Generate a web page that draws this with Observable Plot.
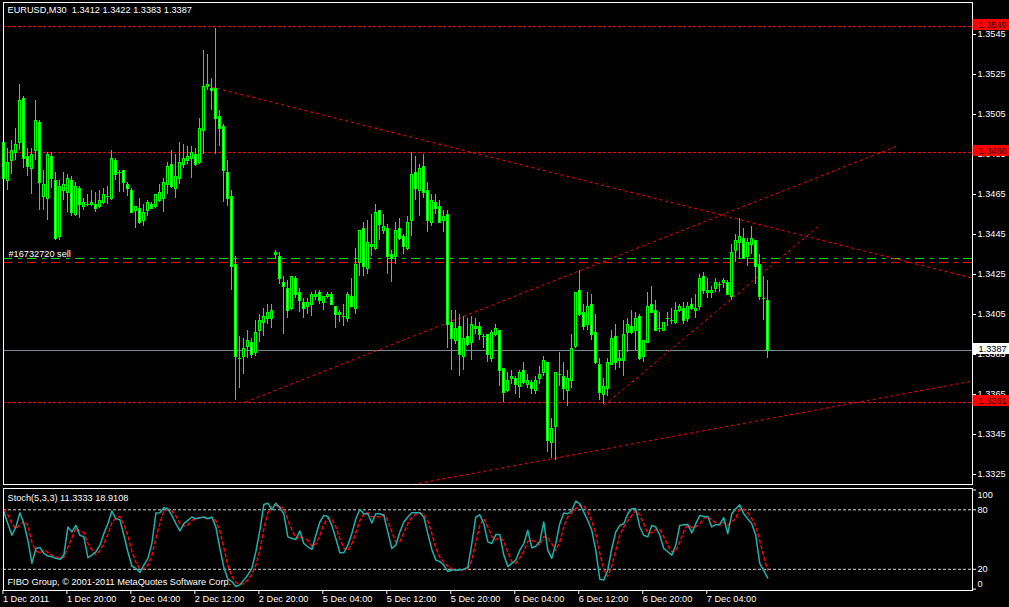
<!DOCTYPE html>
<html>
<head>
<meta charset="utf-8">
<script src="https://cdn.jsdelivr.net/npm/d3@7"></script>
<script src="https://cdn.jsdelivr.net/npm/@observablehq/plot@0.6"></script>
<style>
  html, body { margin: 0; padding: 0; background: #000; }
  #chart { position: relative; width: 1009px; height: 607px; background: #000; overflow: hidden; }
  #chart svg { position: absolute; left: 0; display: block; }
</style>
</head>
<body>
<div id="chart"></div>
<script>
// ---------------- DATA ----------------
const symbolHeader = "EURUSD,M30  1.3412 1.3422 1.3383 1.3387";
const stochHeader = "Stoch(5,3,3) 11.3333 18.9108";
const copyright = "FIBO Group, \u00A9 2001-2011 MetaQuotes Software Corp.";
const orderLabel = "#16732720 sell";

const openP = [1.3491,1.3472,1.3482,1.3486,1.3491,1.3513,1.3484,1.3478,1.3487,1.3501,
1.3464,1.3463,1.3484,1.3472,1.3444,1.3467,1.3466,1.3472,1.3455,1.3468,
1.3459,1.3460,1.3460,1.3460,1.3459,1.3461,1.3464,1.3463,1.3482,1.3476,
1.3477,1.3470,1.3467,1.3457,1.3458,1.3452,1.3457,1.3460,1.3459,1.3462,
1.3463,1.3470,1.3480,1.3468,1.3473,1.3480,1.3482,1.3483,1.3485,1.3481,
1.3497,1.3519,1.3518,1.3518,1.3504,1.3499,1.3476,1.3464,1.3430,1.3383,
1.3384,1.3389,1.3391,1.3386,1.3397,1.3401,1.3403,1.3403,1.3435,1.3434,
1.3421,1.3418,1.3408,1.3423,1.3416,1.3411,1.3409,1.3410,1.3414,1.3416,
1.3411,1.3414,1.3415,1.3409,1.3405,1.3404,1.3403,1.3414,1.3408,1.3431,
1.3448,1.3428,1.3439,1.3438,1.3457,1.3447,1.3448,1.3435,1.3434,1.3448,
1.3444,1.3438,1.3452,1.3476,1.3467,1.3479,1.3467,1.3451,1.3461,1.3459,
1.3452,1.3455,1.3401,1.3392,1.3399,1.3384,1.3394,1.3391,1.3398,1.3399,
1.3394,1.3395,1.3383,1.3395,1.3397,1.3378,1.3367,1.3373,1.3373,1.3369,
1.3377,1.3370,1.3371,1.3367,1.3373,1.3376,1.3381,1.3341,1.3349,1.3375,
1.3374,1.3367,1.3372,1.3389,1.3417,1.3406,1.3400,1.3410,1.3396,1.3380,
1.3365,1.3368,1.3380,1.3394,1.3382,1.3382,1.3396,1.3399,1.3397,1.3404,
1.3384,1.3391,1.3410,1.3407,1.3398,1.3397,1.3403,1.3402,1.3401,1.3407,
1.3408,1.3403,1.3410,1.3407,1.3409,1.3424,1.3416,1.3416,1.3418,1.3420,
1.3421,1.3421,1.3414,1.3437,1.3441,1.3443,1.3434,1.3440,1.3442,1.3430,
1.3413,1.3412];

const highP = [1.3492,1.3488,1.3492,1.3498,1.3520,1.3514,1.3488,1.3488,1.3512,1.3502,
1.3477,1.3486,1.3486,1.3476,1.3472,1.3476,1.3475,1.3474,1.3471,1.3469,
1.3463,1.3465,1.3467,1.3466,1.3467,1.3468,1.3469,1.3487,1.3483,1.3477,
1.3477,1.3471,1.3468,1.3459,1.3463,1.3460,1.3462,1.3461,1.3465,1.3470,
1.3473,1.3481,1.3487,1.3485,1.3491,1.3490,1.3489,1.3489,1.3488,1.3503,
1.3537,1.3535,1.3523,1.3548,1.3507,1.3500,1.3482,1.3467,1.3434,1.3394,
1.3393,1.3397,1.3393,1.3402,1.3405,1.3408,1.3410,1.3410,1.3437,1.3436,
1.3424,1.3422,1.3424,1.3424,1.3418,1.3413,1.3413,1.3416,1.3417,1.3417,
1.3414,1.3416,1.3416,1.3409,1.3407,1.3410,1.3416,1.3423,1.3438,1.3447,
1.3451,1.3452,1.3455,1.3460,1.3457,1.3455,1.3450,1.3437,1.3451,1.3453,
1.3445,1.3454,1.3486,1.3484,1.3480,1.3485,1.3471,1.3465,1.3465,1.3462,
1.3457,1.3457,1.3407,1.3407,1.3405,1.3404,1.3403,1.3404,1.3403,1.3401,
1.3395,1.3395,1.3397,1.3400,1.3397,1.3378,1.3376,1.3377,1.3374,1.3377,
1.3381,1.3375,1.3372,1.3374,1.3379,1.3384,1.3381,1.3353,1.3376,1.3386,
1.3381,1.3377,1.3395,1.3416,1.3427,1.3410,1.3416,1.3415,1.3405,1.3383,
1.3373,1.3383,1.3397,1.3400,1.3387,1.3402,1.3403,1.3407,1.3406,1.3405,
1.3392,1.3416,1.3419,1.3412,1.3406,1.3401,1.3406,1.3408,1.3411,1.3410,
1.3411,1.3411,1.3413,1.3415,1.3425,1.3426,1.3423,1.3419,1.3423,1.3421,
1.3423,1.3422,1.3440,1.3445,1.3453,1.3448,1.3443,1.3449,1.3442,1.3435,
1.3424,1.3422];

const lowP = [1.3460,1.3467,1.3475,1.3482,1.3487,1.3478,1.3474,1.3465,1.3482,1.3457,
1.3457,1.3452,1.3468,1.3442,1.3442,1.3462,1.3456,1.3454,1.3454,1.3453,
1.3457,1.3459,1.3459,1.3456,1.3458,1.3460,1.3460,1.3462,1.3472,1.3466,
1.3466,1.3464,1.3456,1.3448,1.3450,1.3449,1.3454,1.3458,1.3458,1.3461,
1.3456,1.3465,1.3468,1.3463,1.3470,1.3478,1.3480,1.3473,1.3479,1.3480,
1.3485,1.3517,1.3507,1.3485,1.3489,1.3461,1.3459,1.3417,1.3362,1.3368,
1.3375,1.3383,1.3383,1.3384,1.3391,1.3394,1.3400,1.3398,1.3433,1.3420,
1.3395,1.3403,1.3407,1.3413,1.3406,1.3403,1.3405,1.3404,1.3412,1.3410,
1.3407,1.3413,1.3410,1.3398,1.3401,1.3399,1.3401,1.3409,1.3405,1.3424,
1.3424,1.3425,1.3434,1.3437,1.3442,1.3445,1.3425,1.3421,1.3430,1.3442,
1.3435,1.3437,1.3444,1.3462,1.3454,1.3463,1.3446,1.3449,1.3455,1.3451,
1.3446,1.3388,1.3377,1.3390,1.3374,1.3377,1.3389,1.3382,1.3395,1.3392,
1.3388,1.3381,1.3381,1.3394,1.3369,1.3361,1.3366,1.3370,1.3365,1.3363,
1.3370,1.3368,1.3365,1.3365,1.3370,1.3374,1.3336,1.3333,1.3332,1.3369,
1.3362,1.3359,1.3368,1.3388,1.3404,1.3397,1.3397,1.3392,1.3380,1.3362,
1.3360,1.3364,1.3380,1.3377,1.3378,1.3374,1.3386,1.3395,1.3387,1.3382,
1.3381,1.3391,1.3406,1.3397,1.3396,1.3397,1.3399,1.3400,1.3400,1.3406,
1.3400,1.3401,1.3407,1.3403,1.3407,1.3415,1.3413,1.3413,1.3416,1.3416,
1.3418,1.3415,1.3412,1.3431,1.3433,1.3433,1.3429,1.3435,1.3420,1.3412,
1.3402,1.3383];

const closeP = [1.3473,1.3481,1.3487,1.3490,1.3512,1.3483,1.3479,1.3485,1.3502,1.3471,
1.3470,1.3485,1.3473,1.3443,1.3469,1.3470,1.3473,1.3456,1.3469,1.3460,
1.3461,1.3460,1.3461,1.3458,1.3462,1.3465,1.3464,1.3483,1.3475,1.3476,
1.3471,1.3468,1.3456,1.3459,1.3451,1.3456,1.3461,1.3458,1.3465,1.3466,
1.3471,1.3479,1.3469,1.3474,1.3481,1.3483,1.3484,1.3486,1.3480,1.3498,
1.3519,1.3520,1.3517,1.3503,1.3498,1.3477,1.3463,1.3429,1.3384,1.3383,
1.3388,1.3392,1.3385,1.3396,1.3402,1.3404,1.3406,1.3407,1.3436,1.3423,
1.3419,1.3407,1.3424,1.3415,1.3412,1.3408,1.3411,1.3415,1.3415,1.3412,
1.3414,1.3415,1.3410,1.3405,1.3406,1.3404,1.3415,1.3409,1.3430,1.3447,
1.3429,1.3441,1.3440,1.3456,1.3450,1.3449,1.3434,1.3433,1.3447,1.3443,
1.3439,1.3451,1.3475,1.3468,1.3478,1.3466,1.3452,1.3462,1.3458,1.3451,
1.3454,1.3400,1.3393,1.3398,1.3385,1.3393,1.3390,1.3400,1.3399,1.3395,
1.3394,1.3385,1.3396,1.3398,1.3377,1.3366,1.3372,1.3374,1.3370,1.3376,
1.3371,1.3372,1.3368,1.3372,1.3375,1.3382,1.3342,1.3348,1.3376,1.3375,
1.3368,1.3373,1.3388,1.3416,1.3405,1.3399,1.3409,1.3395,1.3381,1.3366,
1.3369,1.3381,1.3393,1.3381,1.3383,1.3395,1.3400,1.3396,1.3403,1.3383,
1.3392,1.3409,1.3406,1.3397,1.3398,1.3401,1.3403,1.3402,1.3407,1.3409,
1.3402,1.3409,1.3408,1.3408,1.3423,1.3417,1.3417,1.3417,1.3421,1.3420,
1.3422,1.3415,1.3436,1.3442,1.3444,1.3433,1.3441,1.3443,1.3429,1.3414,
1.3413,1.3387];

// Stochastic %K (main) and %D (signal)
const stochK = [77.7,66,54.3,62.7,77,66,49.3,26,41,42,
36,33.3,32.7,31,30,34.3,62.7,57.7,64.3,54.3,
52.7,31.7,34.3,37.7,44.3,56,66,78.7,71,70,
54.3,37.7,23.3,21,16.7,24.3,31,46,76.7,77,
82,81,74.3,66,58.7,66,69.3,72.7,71,72,
72.7,71,72.7,62.7,41,22,10,7.7,2.7,4.3,
9.3,14.3,21,37.7,59.3,85.3,86.7,80,86.7,82,
76,52.7,51,50,58.7,46,42.7,40,54.3,67.7,
74.3,73.3,64.3,51,36.7,36.7,44.3,56,71,80.3,
76,76,66.7,76,76,74.3,57.7,41,44.3,57.7,
67.7,72.7,77,77,77,72.7,56,40,29.3,27.7,
24.3,17.7,19.3,19.3,19.3,20,22,46,72.7,75,
66,47.7,46,55,55,34.3,22.7,26,29.3,39.3,
46,59.3,41.7,43.3,47.7,67.7,39.3,31,46,66,
76.7,76,79.3,88.7,86,77.7,69.3,59.3,39.3,10,
9.3,19.3,41,57.7,64.3,66,76,81,81,62.7,
54.3,52.7,64.3,62.7,54.3,41,37.7,34.3,44.3,64.3,
65,65.3,56.7,66,74.3,73.3,73.3,62.7,65,65.3,
72,56,76,81,85,76,71,66,54.3,26,
18.7,11.3333];

const stochD = [80,75,66,61,64.7,68.6,64.1,47.1,38.8,36.3,
39.7,37.1,34,32.3,31.2,31.8,42.3,51.6,61.6,58.8,
57.1,46.2,39.6,34.6,38.8,46,55.4,66.9,71.9,73.2,
65.1,54,38.4,27.3,20.3,20.7,24,33.8,51.2,66.6,
78.6,80,79.1,73.8,66.3,63.6,64.7,69.3,71,71.9,
71.9,71.9,72.1,68.8,58.8,41.9,24.3,13.2,6.8,4.9,
5.4,9.3,14.9,24.3,39.3,60.8,77.1,84,84.5,82.9,
81.6,70.2,59.9,51.2,53.2,51.6,49.1,42.9,45.7,54,
65.4,71.8,70.6,62.9,50.7,41.5,39.2,45.7,57.1,69.1,
75.8,77.4,72.9,72.9,72.9,75.4,69.3,57.7,47.7,47.7,
56.6,66,72.5,75.6,77,75.6,68.6,56.2,41.8,32.3,
27.1,23.2,20.4,18.8,19.3,19.5,20.4,29.3,46.9,64.6,
71.2,62.9,53.2,49.6,52,48.1,37.3,27.7,26,31.5,
38.2,48.2,49,48.1,44.2,52.9,51.6,46,38.8,47.7,
62.9,72.9,77.3,81.3,84.7,84.1,77.7,68.8,56,36.2,
19.5,12.9,23.2,39.3,54.3,62.7,68.8,74.3,79.3,74.9,
66,56.6,57.1,59.9,60.4,52.7,44.3,37.7,38.8,47.6,
57.9,64.9,62.3,62.7,65.7,71.2,73.6,69.8,67,64.3,
67.4,64.4,68,71,80.7,80.7,77.3,71,63.8,48.8,
33,18.9108];

// time axis: bar index of each label and its text
const timeTickIdx = [0,16,32,48,64,80,96,112,128,144,160,176];
const timeTickLabels = ["1 Dec 2011","1 Dec 20:00","2 Dec 04:00","2 Dec 12:00","2 Dec 20:00",
  "5 Dec 04:00","5 Dec 12:00","5 Dec 20:00","6 Dec 04:00","6 Dec 12:00","6 Dec 20:00","7 Dec 04:00"];

const priceTicks = [1.3325,1.3345,1.3365,1.3385,1.3405,1.3425,1.3445,1.3465,1.3485,1.3505,1.3525,1.3545];
const levelPrices = [1.3549, 1.3486, 1.3361];   // red horizontal lines with labels
const bidPrice = 1.3387;
const orderPrice = 1.3433;   // green order line
const stopPrice = 1.3431;    // red stop line
const stochLevels = [80, 20];
const stochEndLabels = [100, 0];

// trend lines: [bar index, price] -> [bar index, price]
const trendStartIdx = [50.4, 60.4, 102.2, 150.0];
const trendStartPrice = [1.35195, 1.33612, 1.33200, 1.33595];
const trendEndIdx = [242.2, 223.7, 242.2, 204.2];
const trendEndPrice = [1.34232, 1.34895, 1.33717, 1.34500];

// ---------------- BUILD ----------------
const candles = openP.map((o, i) => ({i, open: o, high: highP[i], low: lowP[i], close: closeP[i]}));
const bull = candles.filter(d => d.close > d.open);
const bear = candles.filter(d => d.close < d.open);
const doji = candles.filter(d => d.close === d.open);
const trends = trendStartIdx.map((x, k) => ({x1: x, y1: trendStartPrice[k], x2: trendEndIdx[k], y2: trendEndPrice[k]}));
const stoch = stochK.map((k, i) => ({i, k, d: stochD[i]}));

const XDOM = [-0.1, 242.2];
const LIME = "#00ff00";
const FONT = "'Liberation Sans', Arial, sans-serif";
const fmt4 = d3.format(".4f");
const baseStyle = {background: "#000", color: "#fff", fontFamily: FONT, fontSize: "9.2px", overflow: "visible"};

const boxTop = 0.00035, boxBottom = 0.0002;

const main = Plot.plot({
  width: 1009, height: 486,
  marginLeft: 3, marginRight: 37, marginTop: 2, marginBottom: 2,
  style: baseStyle,
  x: {domain: XDOM, axis: null},
  y: {domain: [1.3320, 1.3561], axis: null},
  marks: [
    Plot.ruleY(levelPrices, {stroke: "#ff0000", strokeDasharray: "3,2"}),
    Plot.ruleY([bidPrice], {stroke: "#778899"}),
    Plot.ruleY([orderPrice], {stroke: "#00e000", strokeDasharray: "9,6,3,6", strokeWidth: 1.2}),
    Plot.ruleY([stopPrice], {stroke: "#ff0000", strokeDasharray: "9,6,3,6", strokeWidth: 1.2}),
    Plot.link(trends, {x1: "x1", y1: "y1", x2: "x2", y2: "y2", stroke: "#ff0000", strokeDasharray: "3,3", clip: true}),
    Plot.ruleX(candles, {x: "i", y1: "low", y2: "high", stroke: LIME, shapeRendering: "crispEdges"}),
    Plot.rect(bull, {x1: d => d.i - 0.25, x2: d => d.i + 0.25, y1: "open", y2: "close", fill: "#000", stroke: LIME, shapeRendering: "crispEdges"}),
    Plot.rect(bear, {x1: d => d.i - 0.25, x2: d => d.i + 0.25, y1: "open", y2: "close", fill: "#fff", stroke: LIME, shapeRendering: "crispEdges"}),
    Plot.ruleY(doji, {y: "close", x1: d => d.i - 0.4, x2: d => d.i + 0.4, stroke: LIME, shapeRendering: "crispEdges"}),
    Plot.frame({stroke: "#fff", shapeRendering: "crispEdges"}),
    Plot.axisY({anchor: "right", ticks: priceTicks, tickSize: 3, tickPadding: 2, tickFormat: fmt4, label: null, fill: "#fff"}),
    Plot.rect(levelPrices, {x1: () => XDOM[1] + 0.15, x2: () => XDOM[1] + 9.5, y1: d => d + boxTop, y2: d => d - boxBottom, fill: "#ff0000"}),
    Plot.text(levelPrices, {y: d => d, frameAnchor: "right", dx: 6, dy: -1.5, textAnchor: "start", text: fmt4, fill: "#3a0000"}),
    Plot.rect([bidPrice], {x1: () => XDOM[1] + 0.15, x2: () => XDOM[1] + 9.5, y1: d => d + boxTop, y2: d => d - boxBottom, fill: "#ffffff"}),
    Plot.text([bidPrice], {y: d => d, frameAnchor: "right", dx: 6, dy: -1.5, textAnchor: "start", text: fmt4, fill: "#000"}),
    Plot.text([symbolHeader], {frameAnchor: "top-left", dx: 4, dy: 4, fill: "#fff"}),
    Plot.text([orderLabel], {y: () => orderPrice, frameAnchor: "left", dx: 5, dy: -2, lineAnchor: "bottom", textAnchor: "start", fill: "#fff"})
  ]
});
main.style.top = "0px";

const sto = Plot.plot({
  width: 1009, height: 121,
  marginLeft: 3, marginRight: 37, marginTop: 2, marginBottom: 17,
  style: baseStyle,
  x: {domain: XDOM, axis: null},
  y: {domain: [-1.4, 101.5], axis: null},
  marks: [
    Plot.ruleY(stochLevels, {stroke: "#d8d8d8", strokeDasharray: "3,2"}),
    Plot.line(stoch, {x: "i", y: "d", stroke: "#ff0000", strokeDasharray: "3,3"}),
    Plot.line(stoch, {x: "i", y: "k", stroke: "#20b2aa"}),
    Plot.frame({stroke: "#fff", shapeRendering: "crispEdges"}),
    Plot.axisY({anchor: "right", ticks: [100, 80, 20, 0], tickSize: 3, tickFormat: () => "", label: null}),
    Plot.text(stochLevels, {y: d => d, frameAnchor: "right", dx: 5, textAnchor: "start", text: d => String(d), fill: "#fff"}),
    Plot.text([stochEndLabels[0]], {y: d => d, frameAnchor: "right", dx: 5, dy: 5, textAnchor: "start", text: d => String(d), fill: "#fff"}),
    Plot.text([stochEndLabels[1]], {y: d => d, frameAnchor: "right", dx: 5, dy: -5, textAnchor: "start", text: d => String(d), fill: "#fff"}),
    Plot.axisX({anchor: "bottom", ticks: timeTickIdx, tickSize: 4, tickPadding: 1, textAnchor: "start", dx: -1,
      tickFormat: d => timeTickLabels[timeTickIdx.indexOf(d)], label: null, fill: "#fff"}),
    Plot.text([stochHeader], {frameAnchor: "top-left", dx: 4, dy: 6, fill: "#fff"}),
    Plot.text([copyright], {frameAnchor: "bottom-left", dx: 4, dy: -6, fill: "#fff"})
  ]
});
sto.style.top = "486px";

const host = document.getElementById("chart");
host.appendChild(main);
host.appendChild(sto);
</script>
</body>
</html>
